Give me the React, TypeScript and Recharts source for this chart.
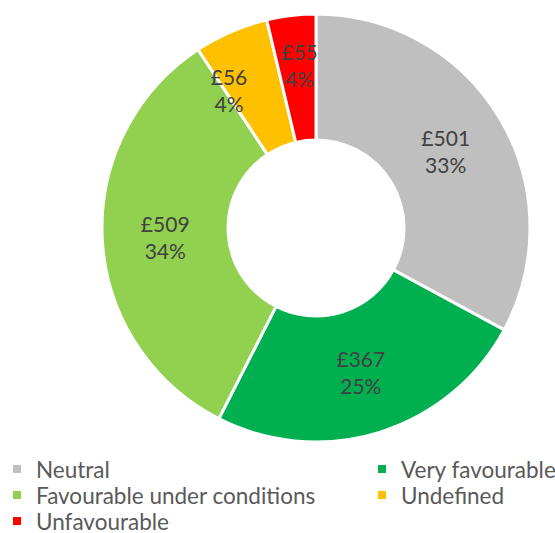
import React from "react";
import { PieChart, Pie, Cell } from "recharts";

// category order, clockwise from 12 o'clock
const categories = ["Neutral", "Very favourable", "Favourable under conditions", "Undefined", "Unfavourable"];
// slice sizes as drawn (share of the ring, %)
const shares = [32.9, 24.6, 33.2, 5.6, 3.7];
// label texts shown on the slices
const amounts = [501, 367, 509, 56, 55];
const percents = [33, 25, 34, 4, 4];
const colors = ["#BFBFBF", "#00B050", "#92D050", "#FFC000", "#FF0000"];

// small nudges so the two thin slices' labels sit where the reference has them
const labelNudge = [
  [0, 0],
  [0, 0],
  [0, 0],
  [-27, 1],
  [1, -13],
];

// legend order (two columns)
const legendOrder = [0, 1, 2, 3, 4];

const data = categories.map((name, i) => ({
  name,
  value: shares[i],
  amount: amounts[i],
  pct: percents[i],
}));

const RAD = Math.PI / 180;

const renderLabel = (props: any) => {
  const { cx, cy, midAngle, innerRadius, outerRadius, index } = props;
  const r = (innerRadius + outerRadius) / 2;
  const x = cx + r * Math.cos(-midAngle * RAD) + labelNudge[index][0];
  const y = cy + r * Math.sin(-midAngle * RAD) + labelNudge[index][1];
  return (
    <text
      x={x}
      y={y}
      textAnchor="middle"
      fill="#404040"
      fontSize={21}
      fontFamily="Lato"
    >
      <tspan x={x} y={y - 13.5} dominantBaseline="central">
        £{amounts[index]}
      </tspan>
      <tspan x={x} y={y + 13.5} dominantBaseline="central">
        {percents[index]}%
      </tspan>
    </text>
  );
};

export default function App() {
  return (
    <div
      style={{
        position: "absolute",
        left: 0,
        top: 0,
        width: 555,
        height: 533,
        background: "#fff",
        fontFamily: "Lato",
      }}
    >
      <PieChart width={555} height={450} margin={{ top: 0, right: 0, bottom: 0, left: 0 }}>
        <Pie
          data={data}
          dataKey="value"
          cx={316}
          cy={228}
          innerRadius={88}
          outerRadius={214}
          startAngle={90}
          endAngle={-270}
          stroke="#FFFFFF"
          strokeWidth={3}
          label={renderLabel}
          labelLine={false}
          isAnimationActive={false}
        >
          {data.map((d, i) => (
            <Cell key={d.name} fill={colors[i]} />
          ))}
        </Pie>
      </PieChart>

      {/* Legend */}
      {legendOrder.map((idx, n) => {
        const col = n % 2;
        const row = Math.floor(n / 2);
        return (
          <div
            key={categories[idx]}
            style={{
              position: "absolute",
              left: col === 0 ? 13 : 378,
              top: 456 + row * 26,
              height: 26,
              display: "flex",
              alignItems: "center",
              whiteSpace: "nowrap",
            }}
          >
            <div style={{ width: 8, height: 8, background: colors[idx], marginRight: 15 }} />
            <span style={{ fontSize: 22.5, color: "#595959" }}>{categories[idx]}</span>
          </div>
        );
      })}
    </div>
  );
}
